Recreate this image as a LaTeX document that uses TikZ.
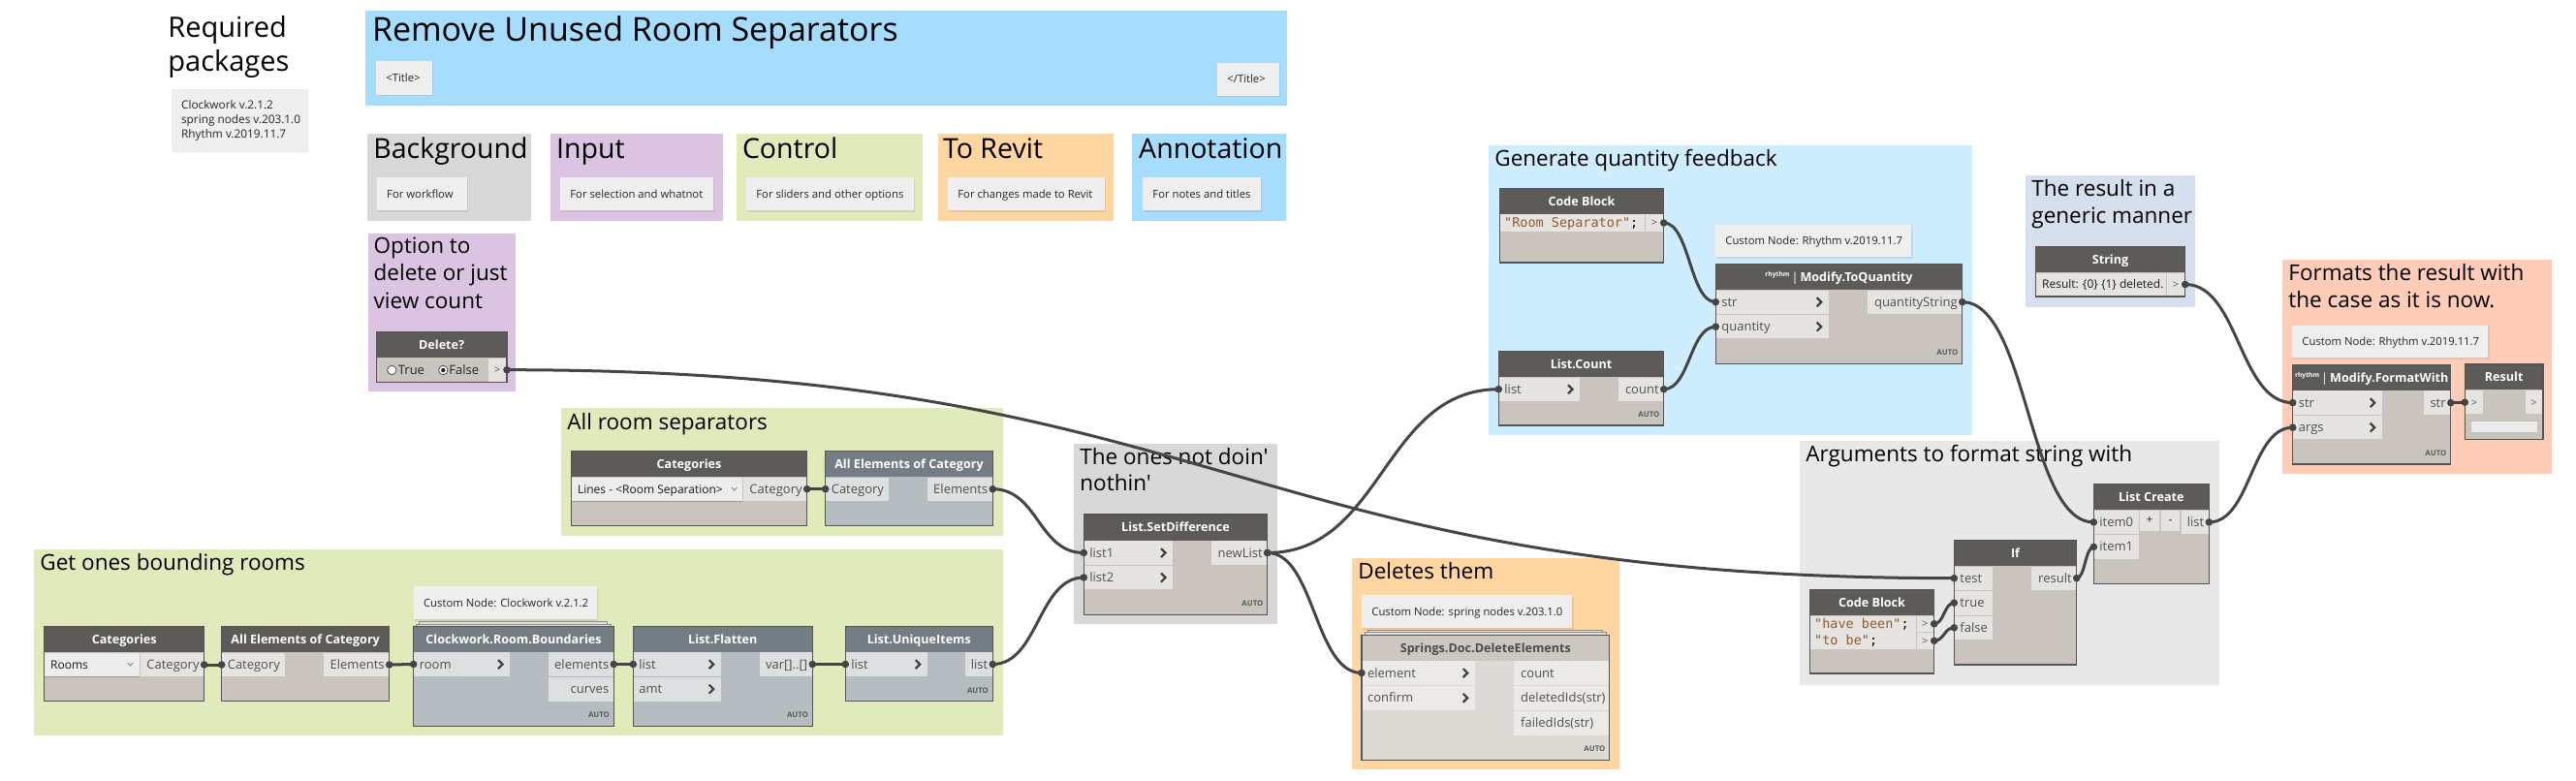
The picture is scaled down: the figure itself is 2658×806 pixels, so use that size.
\documentclass[tikz,border=0pt]{standalone}
\usepackage{fontspec}
\setmainfont{Open Sans}[Ligatures=TeXOff]
\newfontfamily\codefont{DejaVu Sans Mono}[Ligatures=TeXOff]
\usetikzlibrary{fit,shadows,calc}
\definecolor{hW}{HTML}{5D5B58}
\definecolor{bW}{HTML}{C9C5BE}
\definecolor{pW}{HTML}{E6E4E0}
\definecolor{hB}{HTML}{737D83}
\definecolor{bB}{HTML}{B5BDC0}
\definecolor{pB}{HTML}{DCE0E1}
\definecolor{hS}{HTML}{CCC8C1}
\definecolor{bS}{HTML}{DCDAD5}
\definecolor{pS}{HTML}{ECEAE7}
\definecolor{nframec}{HTML}{555555}
\definecolor{wirec}{HTML}{454545}
\definecolor{labc}{HTML}{505050}
\definecolor{notec}{HTML}{EFEFEF}
\definecolor{codec}{HTML}{8F5B33}
\definecolor{gTitle}{HTML}{A6DCFE}
\definecolor{gGray}{HTML}{D8D8D8}
\definecolor{gPurple}{HTML}{DBC4E2}
\definecolor{gGreen}{HTML}{E0EABB}
\definecolor{gOrange}{HTML}{FFD5A2}
\definecolor{gBlue}{HTML}{A6DCFE}
\definecolor{gLightBlue}{HTML}{CEEDFE}
\definecolor{gSteel}{HTML}{D5E0EC}
\definecolor{gSalmon}{HTML}{FFCCB7}
\definecolor{gLight}{HTML}{E8E8E8}
\definecolor{ddc}{HTML}{EDEDED}
\tikzset{
  headW/.style={fill=hW}, bodyW/.style={fill=bW}, portW/.style={fill=pW},
  headB/.style={fill=hB}, bodyB/.style={fill=bB}, portB/.style={fill=pB},
  headS/.style={fill=hS}, bodyS/.style={fill=bS}, portS/.style={fill=pS},
  htitleW/.style={anchor=base, inner sep=0, text=white, font=\bfseries\fontsize{6.3}{7}\selectfont},
  htitleB/.style={htitleW},
  htitleS/.style={htitleW, text=black!70},
  plabel/.style={inner sep=0, text=labc, font=\fontsize{6.5}{7}\selectfont},
  chev/.style={draw=black!75, line width=1.1pt},
  autol/.style={anchor=base east, inner sep=0, text=black!65, font=\bfseries\fontsize{3.9}{4}\selectfont},
  nframe/.style={draw=nframec, line width=0.7pt, inner sep=0pt},
  notebox/.style={fill=notec, inner sep=0pt, drop shadow={opacity=0.18, shadow xshift=0.7pt, shadow yshift=-0.7pt}},
  notetext/.style={anchor=base west, inner sep=0, text=black!85, font=\fontsize{5.65}{6.5}\selectfont},
  gtitle/.style={anchor=base west, inner sep=0, font=\fontsize{11.25}{12}\selectfont},
  ltitle/.style={anchor=base west, inner sep=0, font=\fontsize{14.25}{15}\selectfont},
  wirel/.style={draw=wirec, line width=1.5pt},
  nubf/.style={fill=wirec},
  codetxt/.style={anchor=base west, inner sep=0, font=\codefont\fontsize{6.75}{7}\selectfont, text=codec},
  ddtext/.style={anchor=base west, inner sep=0, text=black!90, font=\fontsize{6}{7}\selectfont},
  gtl/.style={anchor=base, inner sep=0, text=black!65, font=\fontsize{5.5}{6}\selectfont},
  stackbox/.style={draw=black!45, fill=black!12, line width=0.35pt},
  ddbox/.style={fill=ddc},
}
\newcommand\dbody[7]{%
  \fill[body#1] (#2,#3) rectangle (#4,#5);
  \fill[head#1] (#2,#3) rectangle (#4,#6);
  \node[htitle#1] at ({(#2+#4)/2},{(#3+#6)/2+4.6}) {#7};}
\newcommand\dframe[5]{\node[nframe,fit={(#2,#3)(#4,#5)}] (#1) {};}
\newcommand\pin[6]{%
  \fill[port#1] (#2,#3) rectangle (#4,#5);
  \node[plabel,anchor=base west] at ({#2+5},{(#3+#5)/2+4.5}) {#6};}
\newcommand\chev[3]{\draw[chev] ({#1-12},{(#2+#3)/2-4.5}) -- ({#1-7.5},{(#2+#3)/2}) -- ({#1-12},{(#2+#3)/2+4.5});}
\newcommand\pinc[6]{\pin{#1}{#2}{#3}{#4}{#5}{#6}\chev{#4}{#3}{#5}}
\newcommand\pout[6]{%
  \fill[port#1] (#2,#3) rectangle (#4,#5);
  \node[plabel,anchor=base east] at ({#4-4},{(#3+#5)/2+4.5}) {#6};}
\newcommand\poutl[6]{%
  \fill[port#1] (#2,#3) rectangle (#4,#5);
  \node[plabel,anchor=base west] at ({#2+6.5},{(#3+#5)/2+4.5}) {#6};}
\newcommand\autolab[2]{\node[autol] at (#1,#2) {AUTO};}
\newcommand\note[6]{%
  \node[notebox, fit={(#2,#3)(#4,#5)}] (#1) {};
  \node[notetext] (#1-t) at ({#2+10},{(#3+#5)/2+4}) {#6};}
\newcommand\rhy{\raisebox{2.2pt}{\fontsize{3.35}{4}\selectfont rhythm}\hspace{1pt}{\mdseries|}\hspace{1pt}}
\newcommand\wire[2]{%
  \draw[wirel] let \p1=(#1), \p2=(#2), \n1={0.5*abs(\x2-\x1)} in
    (\p1) .. controls ({\x1+\n1},\y1) and ({\x2-\n1},\y2) .. (\p2);
  \fill[nubf] (#1) circle[radius=1.9pt];
  \fill[nubf] (#2) circle[radius=1.9pt];}
\begin{document}
\begin{tikzpicture}[x=0.5pt,y=-0.5pt]
\useasboundingbox (0,0) rectangle (2658,806);

% ---------- required packages
\node[anchor=base west, inner sep=0, font=\fontsize{14.5}{15}\selectfont] (rq1) at (173,38.3) {Required};
\node[anchor=base west, inner sep=0, font=\fontsize{14.5}{15}\selectfont] (rq2) at (173,73.3) {packages};
\node[notebox, fit={(176.5,91.7)(317,156)}] (pkg) {};
\node[notetext, font=\fontsize{5.9}{6}\selectfont] (pkg1) at (186.7,113) {Clockwork v.2.1.2};
\node[notetext, font=\fontsize{5.9}{6}\selectfont] (pkg2) at (186.7,127.7) {spring nodes v.203.1.0};
\node[notetext, font=\fontsize{5.9}{6}\selectfont] (pkg3) at (186.7,142.3) {Rhythm v.2019.11.7};

% ---------- title group
\fill[gTitle] (376.8,11) rectangle (1328,108.7);
\node[anchor=base west, inner sep=0, font=\fontsize{17}{18}\selectfont] (ttl) at (383.6,42.7) {Remove Unused Room Separators};
\note{tn1}{388}{63.3}{446}{97.7}{<Title>}
\note{tn2}{1256}{65}{1320}{98.7}{</Title>}

% ---------- legend
\fill[gGray] (378.5,138) rectangle (548.2,227.7);
\node[ltitle] (lg1) at (385,164) {Background};
\note{ln1}{388.8}{183.3}{481.7}{217.3}{For workflow}
\fill[gPurple] (567.8,138) rectangle (746,227.7);
\node[ltitle] (lg2) at (573.7,164) {Input};
\note{ln2}{578}{183.3}{735.7}{217.3}{For selection and whatnot}
\fill[gGreen] (759.6,138) rectangle (952.3,227.7);
\node[ltitle] (lg3) at (765.6,164) {Control};
\note{ln3}{770}{183.3}{943}{217.3}{For sliders and other options}
\fill[gOrange] (967.6,138) rectangle (1149.2,227.7);
\node[ltitle] (lg4) at (972.7,164) {To Revit};
\note{ln4}{978}{183.3}{1140}{217.3}{For changes made to Revit}
\fill[gBlue] (1168,138) rectangle (1327.4,227.7);
\node[ltitle] (lg5) at (1174.8,164) {Annotation};
\note{ln5}{1179}{183.3}{1301}{217.3}{For notes and titles}

% ---------- groups
\fill[gPurple] (380,241) rectangle (532.3,404);
\node[gtitle] (g1a) at (385.3,261.7) {Option to};
\node[gtitle] (g1b) at (385.3,290) {delete or just};
\node[gtitle] (g1c) at (385.3,318.3) {view count};
\fill[gGreen] (579,421) rectangle (1035,552.7);
\node[gtitle] (g2) at (585,443.3) {All room separators};
\fill[gGreen] (35,567) rectangle (1035,759);
\node[gtitle] (g3) at (41,588) {Get ones bounding rooms};
\fill[gGray] (1108,458.3) rectangle (1317.7,644.3);
\node[gtitle] (g4a) at (1114,480) {The ones not doin'};
\node[gtitle] (g4b) at (1114,506.7) {nothin'};
\fill[gOrange] (1395,576) rectangle (1670.7,794.3);
\node[gtitle] (g5) at (1401,597.3) {Deletes them};
\fill[gLightBlue] (1536,150) rectangle (2035,449.3);
\node[gtitle] (g6) at (1542,171.7) {Generate quantity feedback};
\fill[gSteel] (2090,181) rectangle (2265,316.7);
\node[gtitle] (g7a) at (2096,202.7) {The result in a};
\node[gtitle] (g7b) at (2096,231) {generic manner};
\fill[gSalmon] (2355,268.3) rectangle (2632.5,489.3);
\node[gtitle] (g8a) at (2361,290) {Formats the result with};
\node[gtitle] (g8b) at (2361,317.3) {the case as it is now.};
\fill[gLight] (1857.3,455) rectangle (2290,706.7);
\node[gtitle] (g9) at (1863,476.7) {Arguments to format string with};

% ---------- Delete?
\dbody{W}{388.3}{342.3}{523}{394.3}{369}{Delete?}
\fill[pW] (504,369.6) rectangle (522.3,393.6);
\node[gtl] at (513,385.7) {>};
\draw[fill=white, draw=black!70, line width=0.4pt] (404.3,382) circle[radius=2.35pt];
\node[plabel, anchor=base west, text=black!85] at (410.5,386.6) {True};
\draw[fill=white, draw=black!70, line width=0.4pt] (457.3,382) circle[radius=2.35pt];
\fill[black!85] (457.3,382) circle[radius=1.1pt];
\node[plabel, anchor=base west, text=black!85] at (463,386.6) {False};
\dframe{del}{388.3}{342.3}{523}{394.3}
\coordinate (del-o) at (523,381.7);

% ---------- Categories (lines)
\dbody{W}{589.3}{465.3}{832.7}{542.3}{492}{Categories}
\fill[ddbox] (590,492.6) rectangle (766,517);
\draw[black!40, line width=0.5pt] (590,517) -- (766,517);
\node[ddtext] at (595.7,509.2) {Lines - <Room Separation>};
\draw[black!55, line width=0.35pt] (755,503) -- (757.7,506) -- (760.4,503);
\pout{W}{767}{492.6}{832}{517}{Category}
\dframe{catL}{589.3}{465.3}{832.7}{542.3}
\coordinate (catL-o) at (832.7,504.7);

% ---------- All Elements of Category (upper)
\dbody{B}{851.7}{465.3}{1024.3}{542.3}{492}{All Elements of Category}
\pin{B}{852.4}{492.6}{916.7}{517}{Category}
\pout{B}{956.7}{492.6}{1023.6}{517}{Elements}
\dframe{ae2}{851.7}{465.3}{1024.3}{542.3}
\coordinate (ae2-i) at (851.7,504.7);
\coordinate (ae2-o) at (1024.3,504.7);

% ---------- Categories (rooms)
\dbody{W}{45.7}{646.7}{210.7}{723.3}{673.3}{Categories}
\fill[ddbox] (46.4,673.9) rectangle (144.3,698);
\draw[black!40, line width=0.5pt] (46.4,698) -- (144.3,698);
\node[ddtext] at (51.7,690.3) {Rooms};
\draw[black!55, line width=0.35pt] (131.6,684) -- (134.3,687) -- (137,684);
\pout{W}{145}{673.9}{210}{698}{Category}
\dframe{catR}{45.7}{646.7}{210.7}{723.3}
\coordinate (catR-o) at (210.7,686);

% ---------- All Elements of Category (lower)
\dbody{W}{228.7}{646.7}{401.7}{723.3}{673.3}{All Elements of Category}
\pin{W}{229.4}{673.9}{294}{698}{Category}
\pout{W}{334}{673.9}{401}{698}{Elements}
\dframe{ae1}{228.7}{646.7}{401.7}{723.3}
\coordinate (ae1-i) at (228.7,686);
\coordinate (ae1-o) at (401.7,686);

% ---------- Clockwork.Room.Boundaries
\note{cwn}{426.7}{605.3}{616}{639.3}{Custom Node: Clockwork v.2.1.2}
\draw[stackbox] (432,641.3) rectangle (626,650);
\draw[stackbox] (429,644.3) rectangle (630,650);
\dbody{B}{426.7}{646.7}{633.3}{749.3}{672.7}{Clockwork.Room.Boundaries}
\pinc{B}{427.4}{673.3}{526}{697.8}{room}
\pout{B}{566}{673.3}{632.6}{697.8}{elements}
\pout{B}{566}{698.8}{632.6}{723.5}{curves}
\autolab{629.3}{740.8}
\dframe{cw}{426.7}{646.7}{633.3}{749.3}
\coordinate (cw-i) at (426.7,685.5);
\coordinate (cw-o) at (633.3,685.5);

% ---------- List.Flatten
\dbody{B}{653.3}{646.7}{838.3}{749.3}{672.7}{List.Flatten}
\pinc{B}{654}{673.3}{743.7}{697.8}{list}
\pinc{B}{654}{698.8}{743.7}{723.5}{amt}
\pout{B}{784}{673.3}{837.6}{697.8}{var[]..[]}
\autolab{834.3}{740.8}
\dframe{fl}{653.3}{646.7}{838.3}{749.3}
\coordinate (fl-i) at (653.3,685.5);
\coordinate (fl-o) at (838.3,685.5);

% ---------- List.UniqueItems
\dbody{B}{872.3}{646.7}{1024.3}{723.3}{672.7}{List.UniqueItems}
\pinc{B}{873}{673.3}{956.7}{697.8}{list}
\pout{B}{996}{673.3}{1023.6}{697.8}{list}
\autolab{1020.3}{715}
\dframe{uq}{872.3}{646.7}{1024.3}{723.3}
\coordinate (uq-i) at (872.3,685.5);
\coordinate (uq-o) at (1024.3,685.5);

% ---------- List.SetDifference
\dbody{W}{1118.3}{531}{1307.7}{634.3}{557.7}{List.SetDifference}
\pinc{W}{1119}{558.3}{1210}{582.8}{list1}
\pinc{W}{1119}{583.8}{1210}{608.3}{list2}
\pout{W}{1250}{558.3}{1307}{582.8}{newList}
\autolab{1303.7}{625.8}
\dframe{sd}{1118.3}{531}{1307.7}{634.3}
\coordinate (sd-i1) at (1118.3,570.5);
\coordinate (sd-i2) at (1118.3,596);
\coordinate (sd-o) at (1307.7,570.5);

% ---------- Springs.Doc.DeleteElements
\note{spn}{1405}{614.3}{1622.3}{648.3}{Custom Node: spring nodes v.203.1.0}
\draw[stackbox] (1411,650) rectangle (1653,658);
\draw[stackbox] (1408,652.6) rectangle (1657,658);
\dbody{S}{1405}{655.7}{1660.7}{784.3}{681.7}{Springs.Doc.DeleteElements}
\pinc{S}{1405.7}{682.3}{1521.7}{706.8}{element}
\pinc{S}{1405.7}{707.8}{1521.7}{732.8}{confirm}
\poutl{S}{1562.3}{682.3}{1660}{706.8}{count}
\poutl{S}{1562.3}{707.8}{1660}{732.8}{deletedIds(str)}
\poutl{S}{1562.3}{733.8}{1660}{758.5}{failedIds(str)}
\autolab{1656.7}{775.8}
\dframe{sp}{1405}{655.7}{1660.7}{784.3}
\coordinate (sp-i) at (1405,694.5);

% ---------- Code Block "Room Separator"
\dbody{W}{1547.3}{194.3}{1716.7}{271}{221}{Code Block}
\fill[pW] (1548,221.5) rectangle (1697,238.8);
\node[codetxt] at (1551.7,234.3) {"Room Separator"\textcolor{black}{;}};
\fill[pW] (1698,221.5) rectangle (1716,238.8);
\node[gtl] at (1707,234) {>};
\dframe{cb1}{1547.3}{194.3}{1716.7}{271}
\coordinate (cb1-o) at (1716.7,230);

% ---------- List.Count
\dbody{W}{1546.3}{362.3}{1716.7}{439}{389}{List.Count}
\pinc{W}{1547}{389.6}{1630}{413.9}{list}
\pout{W}{1670}{389.6}{1716}{413.9}{count}
\autolab{1712.7}{430.5}
\dframe{cnt}{1546.3}{362.3}{1716.7}{439}
\coordinate (cnt-i) at (1546.3,401.7);
\coordinate (cnt-o) at (1716.7,401.7);

% ---------- Modify.ToQuantity
\note{tqn}{1770}{231.7}{1972.3}{265.3}{Custom Node: Rhythm v.2019.11.7}
\dbody{W}{1770.3}{272.3}{2024.7}{375.3}{299}{\rhy Modify.ToQuantity}
\pinc{W}{1771}{299.6}{1886.7}{323.9}{str}
\pinc{W}{1771}{324.9}{1886.7}{349.5}{quantity}
\pout{W}{1926.7}{299.6}{2024}{323.9}{quantityString}
\autolab{2020.7}{366.8}
\dframe{tq}{1770.3}{272.3}{2024.7}{375.3}
\coordinate (tq-s) at (1770.3,311.7);
\coordinate (tq-q) at (1770.3,337.2);
\coordinate (tq-o) at (2024.7,311.7);

% ---------- If
\dbody{W}{2016.3}{557.3}{2142.7}{686}{584}{If}
\pin{W}{2017}{584.6}{2056}{608.9}{test}
\pin{W}{2017}{609.9}{2056}{634.5}{true}
\pin{W}{2017}{635.5}{2056}{660.2}{false}
\pout{W}{2096}{584.6}{2142}{608.9}{result}
\dframe{iff}{2016.3}{557.3}{2142.7}{686}
\coordinate (if-t) at (2016.3,596.7);
\coordinate (if-tr) at (2016.3,622.2);
\coordinate (if-f) at (2016.3,647.8);
\coordinate (if-o) at (2142.7,596.7);

% ---------- Code Block (have been / to be)
\dbody{W}{1867.3}{608.3}{1995.7}{695}{635}{Code Block}
\fill[pW] (1868,635.6) rectangle (1976.7,669.6);
\node[codetxt] at (1871.7,648.2) {"have been"\textcolor{black}{;}};
\node[codetxt] at (1871.7,665.7) {"to be"\textcolor{black}{;}};
\fill[pW] (1977.5,635.6) rectangle (1995,652);
\node[gtl] at (1986.2,647.5) {>};
\fill[pW] (1977.5,653) rectangle (1995,669.6);
\node[gtl] at (1986.2,665) {>};
\dframe{cb2}{1867.3}{608.3}{1995.7}{695}
\coordinate (cb2-o1) at (1995.7,643.8);
\coordinate (cb2-o2) at (1995.7,661.3);

% ---------- List Create
\dbody{W}{2160.3}{499.3}{2279.3}{602.3}{526}{List Create}
\pin{W}{2161}{526.6}{2206.7}{551.2}{item0}
\pin{W}{2161}{552.2}{2206.7}{576.7}{item1}
\fill[pW] (2208.3,526.6) rectangle (2227.7,547.7);
\node[gtl, text=black!85, font=\fontsize{6}{6}\selectfont] at (2218,540) {+};
\fill[pW] (2230,526.6) rectangle (2249.3,547.7);
\node[gtl, text=black!85, font=\fontsize{6}{6}\selectfont] at (2239.6,540) {-};
\pout{W}{2251}{526.6}{2278.6}{551.2}{list}
\dframe{lc}{2160.3}{499.3}{2279.3}{602.3}
\coordinate (lc-i0) at (2160.3,538.9);
\coordinate (lc-i1) at (2160.3,564.4);
\coordinate (lc-o) at (2279.3,538.9);

% ---------- String
\dbody{W}{2100.3}{254.3}{2254.7}{306}{281}{String}
\fill[pW] (2101,281.6) rectangle (2235.3,305.3);
\node[ddtext] at (2106.7,297.8) {Result: \{0\} \{1\} deleted.};
\fill[pW] (2236.3,281.6) rectangle (2254,305.3);
\node[gtl] at (2245,297.5) {>};
\dframe{str}{2100.3}{254.3}{2254.7}{306}
\coordinate (str-o) at (2254.7,293.5);

% ---------- Modify.FormatWith
\note{fwn}{2365}{336}{2567.3}{369.3}{Custom Node: Rhythm v.2019.11.7}
\dbody{W}{2365.7}{376.7}{2528.7}{479}{402.7}{\rhy Modify.FormatWith}
\pinc{W}{2366.4}{403.3}{2457.7}{427.9}{str}
\pinc{W}{2366.4}{428.9}{2457.7}{453.5}{args}
\pout{W}{2501}{403.3}{2528}{427.9}{str}
\autolab{2524.7}{470.5}
\dframe{fw}{2365.7}{376.7}{2528.7}{479}
\coordinate (fw-s) at (2365.7,415.6);
\coordinate (fw-a) at (2365.7,441.2);
\coordinate (fw-o) at (2528.7,415.6);

% ---------- Result (watch)
\dbody{W}{2543.3}{376}{2624}{453.3}{402.3}{Result}
\fill[pW] (2544,402.9) rectangle (2562,427.5);
\node[gtl] at (2553,419.5) {>};
\fill[pW] (2606,402.9) rectangle (2623.3,427.5);
\node[gtl] at (2614.6,419.5) {>};
\fill[black!8] (2549,434) rectangle (2618,446);
\draw[black!25, line width=0.3pt] (2549,434) rectangle (2618,446);
\dframe{res}{2543.3}{376}{2624}{453.3}
\coordinate (res-i) at (2543.3,415.2);

% ---------- wires
\wire{catR-o}{ae1-i}
\wire{ae1-o}{cw-i}
\wire{cw-o}{fl-i}
\wire{fl-o}{uq-i}
\wire{uq-o}{sd-i2}
\wire{catL-o}{ae2-i}
\wire{ae2-o}{sd-i1}
\wire{sd-o}{cnt-i}
\wire{sd-o}{sp-i}
\wire{del-o}{if-t}
\wire{cb1-o}{tq-s}
\wire{cnt-o}{tq-q}
\wire{tq-o}{lc-i0}
\wire{cb2-o1}{if-tr}
\wire{cb2-o2}{if-f}
\wire{if-o}{lc-i1}
\wire{str-o}{fw-s}
\wire{lc-o}{fw-a}
\wire{fw-o}{res-i}
\end{tikzpicture}
\end{document}
